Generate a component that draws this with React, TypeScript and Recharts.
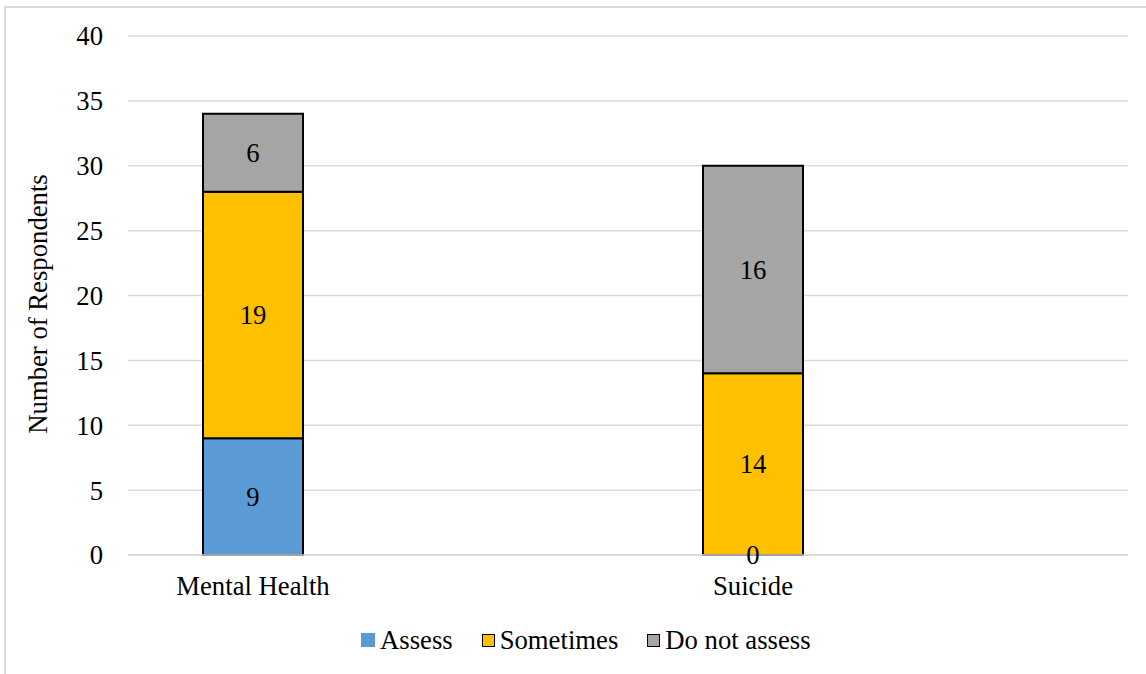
import React from "react";
import { BarChart, Bar, XAxis, YAxis, CartesianGrid, LabelList, Legend } from "recharts";

const categories = ["Mental Health", "Suicide"];
const assess = [9, 0];
const sometimes = [19, 14];
const doNotAssess = [6, 16];
const yTicks = [0, 5, 10, 15, 20, 25, 30, 35, 40];

const data = categories.map((c, i) => ({
  idx: i,
  name: c,
  assess: assess[i],
  sometimes: sometimes[i],
  doNotAssess: doNotAssess[i],
}));

const FONT = "'Times New Roman', 'Liberation Serif', serif";
const FS = 26.7;
const COLORS = { assess: "#5B9BD5", sometimes: "#FFC000", doNotAssess: "#A5A5A5" };

const legendItems = [
  { label: "Assess", color: COLORS.assess, border: false },
  { label: "Sometimes", color: COLORS.sometimes, border: true },
  { label: "Do not assess", color: COLORS.doNotAssess, border: true },
];

const LegendContent = () => (
  <div style={{ display: "flex", alignItems: "center", paddingLeft: 361, fontFamily: FONT, fontSize: FS, color: "#000", height: 28 }}>
    {legendItems.map((it, i) => (
      <div key={i} style={{ display: "flex", alignItems: "center", marginRight: 29 }}>
        <span
          style={{
            display: "inline-block",
            width: it.border ? 11 : 14,
            height: it.border ? 11 : 14,
            background: it.color,
            border: it.border ? "1.5px solid #000" : "none",
            marginRight: 5,
          }}
        />
        <span style={{ lineHeight: "28px" }}>{it.label}</span>
      </div>
    ))}
  </div>
);

const YLabel = () => (
  <text
    x={38}
    y={304}
    transform="rotate(-90, 38, 304)"
    textAnchor="middle"
    dominantBaseline="central"
    fontFamily={FONT}
    fontSize={FS}
    fill="#000"
  >
    Number of Respondents
  </text>
);

const labelStyle = { fontFamily: FONT, fontSize: FS, fill: "#000" };

// Sometimes label; also shows the zero "Assess" value at the stack base when it is 0
const SometimesLabel = (props: any) => {
  const { x, y, width, height, value, index } = props;
  const cx = x + width / 2;
  return (
    <g>
      <text x={cx} y={y + height / 2} textAnchor="middle" dominantBaseline="central" style={labelStyle}>
        {value}
      </text>
      {assess[index] === 0 && (
        <text x={cx} y={y + height} textAnchor="middle" dominantBaseline="central" style={labelStyle}>
          {assess[index]}
        </text>
      )}
    </g>
  );
};

export default function App() {
  return (
    <div style={{ position: "absolute", left: 0, top: 0, width: 1146, height: 674, overflow: "hidden", background: "#fff" }}>
      <div
        style={{
          position: "absolute",
          left: 4,
          top: 6,
          width: 1300,
          height: 800,
          border: "2px solid #d9d9d9",
          boxSizing: "border-box",
        }}
      />
      <div style={{ position: "absolute", left: 0, top: 0 }}>
        <BarChart
          width={1146}
          height={674}
          data={data}
          margin={{ top: 36, right: 18, left: 0, bottom: 52 }}
          barSize={100}
        >
          <CartesianGrid horizontal vertical={false} stroke="#d9d9d9" strokeWidth={1.5} />
          <XAxis
            dataKey="idx"
            type="number"
            domain={[-0.25, 1.75]}
            ticks={[0, 1]}
            tickFormatter={(v: number) => categories[v] ?? ""}
            height={39}
            axisLine={{ stroke: "#d9d9d9", strokeWidth: 1.5 }}
            tickLine={false}
            tickSize={0}
            tickMargin={21}
            tick={{ fontFamily: FONT, fontSize: FS, fill: "#000" }}
          />
          <YAxis
            width={128}
            domain={[0, 40]}
            ticks={yTicks}
            axisLine={false}
            tickLine={false}
            tickSize={0}
            tickMargin={25}
            tick={{ fontFamily: FONT, fontSize: FS, fill: "#000" }}
            label={<YLabel />}
          />
          <Legend
            content={<LegendContent />}
            wrapperStyle={{ position: "absolute", top: 626, left: 0, width: 1146, height: 28 }}
          />
          <Bar dataKey="assess" name="Assess" stackId="a" fill={COLORS.assess} stroke="#000" strokeWidth={2} isAnimationActive={false}>
            <LabelList dataKey="assess" position="center" style={labelStyle} />
          </Bar>
          <Bar dataKey="sometimes" name="Sometimes" stackId="a" fill={COLORS.sometimes} stroke="#000" strokeWidth={2} isAnimationActive={false}>
            <LabelList dataKey="sometimes" content={<SometimesLabel />} />
          </Bar>
          <Bar dataKey="doNotAssess" name="Do not assess" stackId="a" fill={COLORS.doNotAssess} stroke="#000" strokeWidth={2} isAnimationActive={false}>
            <LabelList dataKey="doNotAssess" position="center" style={labelStyle} />
          </Bar>
        </BarChart>
      </div>
    </div>
  );
}
